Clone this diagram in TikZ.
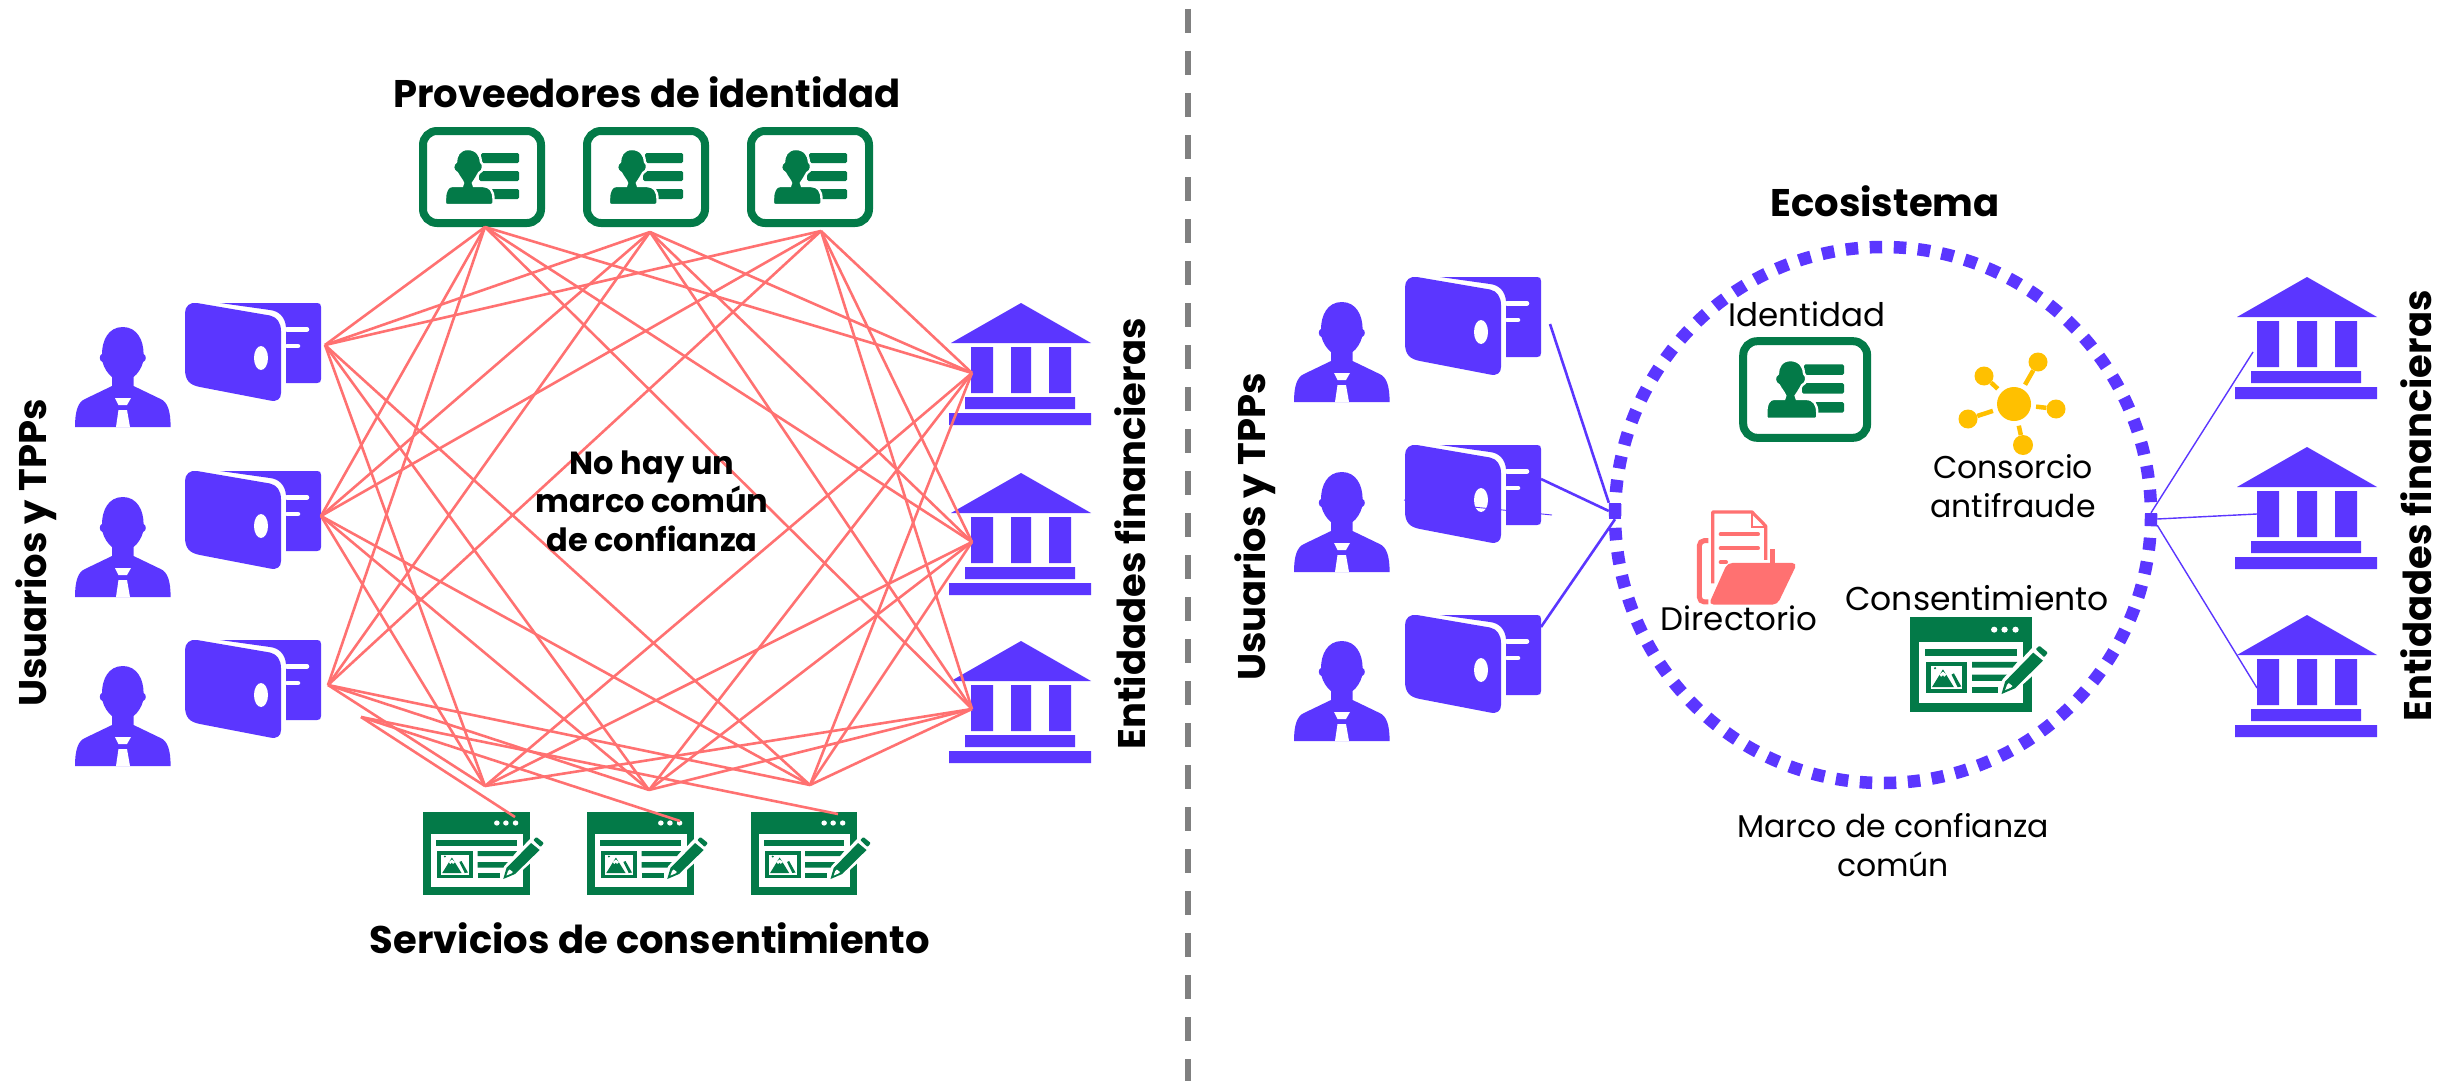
\documentclass[tikz,border=0pt]{standalone}
\usepackage{fontspec}
\setmainfont{Poppins}
\definecolor{blu}{HTML}{5B36FF}
\definecolor{grn}{HTML}{037A48}
\definecolor{cor}{HTML}{FF7171}
\definecolor{amb}{HTML}{FFC000}
\definecolor{gry}{HTML}{808080}
\tikzset{
 x=1pt,y=-1pt,
 redline/.style={cor,line width=2.6pt},
 bluline/.style={blu,line width=2.6pt},
 thinblu/.style={blu,line width=1.4pt},
 heading/.style={font=\fontsize{38.5}{46}\selectfont\bfseries,align=center,inner sep=0pt},
 headingv/.style={heading,rotate=90},
 smalltxt/.style={font=\fontsize{32.5}{38.5}\selectfont,align=center,inner sep=0pt},
 person/.pic={
  \fill[blu] (47.8,0) .. controls (33,0) and (27,14) .. (27,27)
   .. controls (24,28) and (24,34) .. (27.5,35) .. controls (29,41) and (33,47) .. (37,50)
   -- (37,59) -- (10,72) .. controls (3,75) and (0,84) .. (0,100)
   -- (95.6,100) .. controls (95.6,84) and (92.6,75) .. (85.6,72) -- (58.6,59) -- (58.6,50)
   .. controls (62.6,47) and (66.6,41) .. (68.1,35) .. controls (71.6,34) and (71.6,28) .. (68.6,27)
   .. controls (68.6,14) and (62.6,0) .. (47.8,0) -- cycle;
  \fill[white] (40,71) -- (56,71) -- (52,78) -- (43.5,78) -- cycle;
  \fill[white] (43.5,83) -- (52,83) -- (55,100) -- (41,100) -- cycle;
 },
 wallet/.pic={
  \fill[blu] (35,0) -- (132,0) .. controls (135,0) and (136,1) .. (136,4) -- (136,76)
   .. controls (136,79) and (135,80) .. (132,80) -- (101,80) -- (101,24)
   .. controls (100,14) and (94,8) .. (85,7) -- cycle;
  \fill[blu] (12,0) -- (85,12.5) .. controls (92,14) and (96,20) .. (96,28) -- (96,90)
   .. controls (96,96) and (92,99) .. (85,97.5) -- (15,84) .. controls (5,82) and (0,78) .. (0,66)
   -- (0,10) .. controls (0,3) and (5,-1) .. (12,0) -- cycle;
  \fill[white] (76,55) ellipse [x radius=7,y radius=12];
  \draw[white,line width=4.5pt,line cap=round] (102,26.3) -- (122,26.3) (102,43) -- (113,43);
 },
 bank/.pic={
  \fill[blu] (2,40) -- (72,0) -- (142,40) -- cycle;
  \fill[blu] (22,44) rectangle (44,90) (62,44) rectangle (82,90) (100,44) rectangle (122,90);
  \fill[blu] (16,94) rectangle (126,106) (0,110) rectangle (142,122);
 },
 idcard/.pic={
  \draw[grn,line width=8pt,rounded corners=14pt] (4,4) rectangle (122,96);
  \fill[grn,rounded corners=1.5pt] (62,26) rectangle (100,36) (60,44) rectangle (100,54) (70,62) rectangle (100,72);
  \path[fill=grn,draw=white,line width=2.4pt] (49,22) .. controls (40,22) and (37,29) .. (37,35)
   .. controls (33,37) and (33,44) .. (38,46) .. controls (40,50) and (43,53) .. (44,56) -- (43,59)
   -- (33,59) .. controls (29,59) and (26,63) .. (26,72) -- (26,76) .. controls (26,77.5) and (27,78) .. (28,78)
   -- (72,78) .. controls (73,78) and (74.5,77.5) .. (74.5,76) -- (74.5,72) .. controls (74.5,64) and (71,59) .. (64,59)
   -- (55,59) -- (54,56) .. controls (56,53) and (58,50) .. (60,46)
   .. controls (65,44) and (65,37) .. (62,35) .. controls (62,29) and (58,22) .. (49,22) -- cycle;
 },
 consent/.pic={
  \fill[grn] (0,0) rectangle (100,83);
  \fill[white] (7.5,21.5) rectangle (93,75);
  \fill[white] (69,11) circle (2.6) (77.5,11) circle (2.6) (86.5,11) circle (2.6);
  \fill[grn] (12,28) rectangle (88,33.5);
  \fill[grn] (13,39) rectangle (47,66);
  \fill[white] (17,42.5) rectangle (43,62.5);
  \fill[grn] (18,61) -- (27,45.5) -- (36,61) -- cycle;
  \fill[white] (24,50) -- (27,47.5) -- (30,50) -- (28,52) -- (27,50.5) -- (25.5,52) -- cycle;
  \fill[grn] (34,50) -- (36,49) -- (42,60.5) -- (39,61) -- cycle;
  \fill[grn] (20.5,44.5) circle (1);
  \fill[grn] (51,39) -- (88,39) -- (84,44) -- (51,44) -- cycle;
  \fill[grn] (51,50) -- (80,50) -- (75,55.5) -- (51,55.5) -- cycle;
  \fill[grn] (51,60.5) -- (72,60.5) -- (72,66) -- (51,66) -- cycle;
  \fill[white] (74,68.5) -- (76,54) -- (100,27) -- (116,30) -- (112,40) -- (89,62) -- cycle;
  \fill[grn] (75,67) -- (78,56) -- (101,31) -- (109,38) -- (86,62) -- cycle;
  \fill[white] (78,63.5) -- (79.5,59) -- (81,57.5) -- (84,60) -- (82.5,61.5) -- cycle;
  \fill[grn,rounded corners=1pt] (103,28) -- (106,25) -- (113,31) -- (110,35) -- cycle;
 },
}
\begin{document}
\begin{tikzpicture}
\useasboundingbox (0,0) rectangle (2451,1081);
\fill[white] (0,0) rectangle (2451,1081);
% separator
\coordinate (sepTop) at (1188,9);
\coordinate (sepBot) at (1188,1081);
\draw[gry,line width=6pt,dash pattern=on 24pt off 18pt] (sepTop) -- (sepBot);
% left icons
\pic (pa) at (75,327) {person};
\pic (pb) at (75,497) {person};
\pic (pc) at (75,666) {person};
\pic (wa) at (185,303) {wallet};
\pic (wb) at (185,471) {wallet};
\pic (wc) at (185,640) {wallet};
\pic (ia) at (419,127) {idcard};
\pic (ib) at (583,127) {idcard};
\pic (ic) at (747,127) {idcard};
\pic[xscale=1.07] (ca) at (423,812) {consent};
\pic[xscale=1.07] (cb) at (587,812) {consent};
\pic[xscale=1.06] (cc) at (751,812) {consent};
\pic (ba) at (949,303) {bank};
\pic (bb) at (949,473) {bank};
\pic (bc) at (949,641) {bank};
% left hubs
\coordinate (W1) at (325,345);
\coordinate (W2) at (321,516);
\coordinate (W3) at (328,685);
\coordinate (W4) at (361,717);
\coordinate (T1) at (485,227);
\coordinate (T2) at (650,232);
\coordinate (T3) at (821,231);
\coordinate (B1) at (972,373);
\coordinate (B2) at (972,542);
\coordinate (B3) at (972,709);
\coordinate (S1) at (485,786);
\coordinate (S2) at (649,790);
\coordinate (S3) at (810,785);
\coordinate (C1) at (515,817);
\coordinate (C2) at (680,821);
\coordinate (C3) at (838,814);
\foreach \a in {W1,W2,W3,B1,B2,B3} {
  \foreach \b in {T1,T2,T3,S1,S2,S3} {
    \draw[redline] (\a) -- (\b);
  }
}
\foreach \b in {C1,C2,C3} { \draw[redline] (W4) -- (\b); }
% left text
\node[heading] (tprov) at (647,92) {Proveedores de identidad};
\node[heading] (tserv) at (650,938) {Servicios de consentimiento};
\node[font=\fontsize{32}{38.5}\selectfont\bfseries,align=center,inner sep=0pt] (tnohay) at (652,501) {No hay un\\marco común\\de confianza};
\node[headingv] (tuser) at (36,553) {Usuarios y TPPs};
\node[headingv] (tent) at (1130,534) {Entidades financieras};
% right icons
\pic (qa) at (1294,302) {person};
\pic (qb) at (1294,472) {person};
\pic (qc) at (1294,641) {person};
\pic (xa) at (1405,277) {wallet};
\pic (xb) at (1405,445) {wallet};
\pic (xc) at (1405,615) {wallet};
\pic (ya) at (2235,277) {bank};
\pic (yb) at (2235,447) {bank};
\pic (yc) at (2235,615) {bank};
% dotted ring
\coordinate (ringW) at (1615,515);
\draw[blu,line width=12.5pt,dash pattern=on 12.5pt off 11.56pt,dash phase=1.3pt] (ringW) arc[start angle=180,end angle=540,radius=268];
\node[fill=blu,minimum width=12pt,minimum height=16pt,inner sep=0pt] (hubL) at (1615,511) {};
\node[fill=blu,minimum width=12pt,minimum height=12pt,inner sep=0pt] (hubR) at (2151,519) {};
% right connectors
\coordinate (xa1) at (1550,324);
\coordinate (xb1) at (1541,479);
\coordinate (xc1) at (1541,627);
\coordinate (xs) at (1404,500);
\coordinate (xe) at (1552,515);
\coordinate (ya1) at (2253,352);
\coordinate (yb1) at (2257,514);
\coordinate (yc1) at (2257,688);
\draw[bluline] (xa1) -- (hubL.north west);
\draw[bluline] (xb1) -- (hubL.west);
\draw[bluline] (xc1) -- (hubL.south);
\draw[blu,line width=.9pt] (xs) -- (xe);
\draw[thinblu] (hubR.north) -- (ya1);
\draw[thinblu] (hubR.east) -- (yb1);
\draw[thinblu] (hubR.south east) -- (yc1);
% ring contents
\pic[scale=1.05] (id) at (1739,337) {idcard};
\pic[xscale=1.22,yscale=1.15] (cons) at (1910,617) {consent};
% network icon
\node[circle,fill=amb,minimum size=34pt,inner sep=0pt] (nc) at (2014,404) {};
\node[circle,fill=amb,minimum size=19pt,inner sep=0pt] (n1) at (2038,362) {};
\node[circle,fill=amb,minimum size=19pt,inner sep=0pt] (n2) at (1984,376) {};
\node[circle,fill=amb,minimum size=19pt,inner sep=0pt] (n3) at (2056,409) {};
\node[circle,fill=amb,minimum size=19pt,inner sep=0pt] (n4) at (1968,419) {};
\node[circle,fill=amb,minimum size=20pt,inner sep=0pt] (n5) at (2023,445) {};
\draw[amb,line width=4.5pt,shorten <=5pt] (nc) -- (n1);
\draw[amb,line width=4.5pt,shorten <=5pt] (nc) -- (n2);
\draw[amb,line width=4.5pt,shorten <=5pt] (nc) -- (n3);
\draw[amb,line width=4.5pt,shorten <=5pt] (nc) -- (n4);
\draw[amb,line width=4.5pt,shorten <=5pt] (nc) -- (n5);
% folder
\begin{scope}[shift={(1600,300)},x=.3333pt,y=-.3333pt]
 \draw[cor,line width=3.2pt,line join=round] (338,850) -- (338,636) -- (456,636) -- (497,678) -- (497,780);
 \draw[cor,line width=2.2pt] (456,636) -- (456,680) -- (497,680);
 \draw[cor,line width=4pt,line cap=round] (362,703) -- (474,703) (362,745) -- (474,745) (362,787) -- (378,787);
 \draw[cor,line width=5pt,rounded corners=5pt] (325,722) -- (298,722) -- (298,906) -- (325,906);
 \draw[cor,line width=4.5pt] (518,748) -- (518,795);
 \fill[cor,rounded corners=5pt] (382,789) -- (592,789) -- (532,914) -- (326,914) -- cycle;
\end{scope}
% right text
\node[headingv] (tuser2) at (1255,527) {Usuarios y TPPs};
\node[headingv] (tent2) at (2416,506) {Entidades financieras};
\node[heading] (teco) at (1885,201) {Ecosistema};
\node[smalltxt] (tid) at (1807,314) {Identidad};
\node[smalltxt,font=\fontsize{31.5}{38.5}\selectfont] (tcon) at (2013,486) {Consorcio\\antifraude};
\node[smalltxt] (tdir) at (1739,618) {Directorio};
\node[smalltxt,font=\fontsize{33}{38.5}\selectfont] (tcons) at (1977,598) {Consentimiento};
\node[smalltxt,font=\fontsize{31.5}{38.5}\selectfont] (tmar) at (1893,845) {Marco de confianza\\común};
\end{tikzpicture}
\end{document}
